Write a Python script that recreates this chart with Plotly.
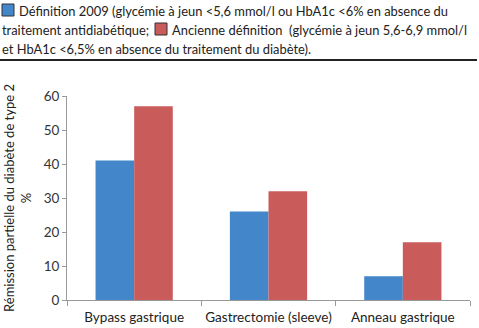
import plotly.graph_objects as go

categories = ["Bypass gastrique", "Gastrectomie (sleeve)", "Anneau gastrique"]
def_2009 = [41, 26, 7]
def_ancienne = [57, 32, 17]
y_ticks = [0, 10, 20, 30, 40, 50, 60]

BLUE = "#4387CA"
RED = "#C95B5B"
FONT = "Lato"

W, H = 479, 328
L, R, T, B = 67, 9, 96, 28
pw, ph = W - L - R, H - T - B

def px_x(p):
    return (p - L) / pw

def px_y(p):
    return (H - B - p) / ph

fig = go.Figure()
fig.add_trace(go.Bar(x=categories, y=def_2009, marker=dict(color=BLUE, line=dict(width=0)), name="Définition 2009"))
fig.add_trace(go.Bar(x=categories, y=def_ancienne, marker=dict(color=RED, line=dict(width=0)), name="Ancienne définition"))

legend_lines = [
    (17, 11, "Définition 2009 (glycémie à jeun &lt;5,6 mmol/l ou HbA1c &lt;6% en absence du"),
    (0, 30, "traitement antidiabétique;"),
    (170, 30, "Ancienne définition  (glycémie à jeun 5,6-6,9 mmol/l"),
    (0, 49, "et HbA1c &lt;6,5% en absence du traitement du diabète)."),
]
for x, y, t in legend_lines:
    fig.add_annotation(text=t, xref="paper", yref="paper", x=px_x(x), y=px_y(y),
                       xanchor="left", yanchor="middle", align="left", showarrow=False,
                       font=dict(family=FONT, size=12.9, color="#222"))

for (x0, y0, col) in [(2, 4, BLUE), (155, 23, RED)]:
    fig.add_shape(type="rect", xref="paper", yref="paper",
                  x0=px_x(x0), x1=px_x(x0 + 12), y0=px_y(y0), y1=px_y(y0 + 12),
                  fillcolor=col, line=dict(color="#333", width=1))

fig.add_shape(type="line", xref="paper", yref="paper", x0=px_x(0), x1=px_x(477),
              y0=px_y(60), y1=px_y(60), line=dict(color="#222", width=2))

fig.update_layout(
    width=W, height=H, margin=dict(l=L, r=R, t=T, b=B),
    paper_bgcolor="white", plot_bgcolor="white",
    barmode="group", bargap=0.425, bargroupgap=0,
    showlegend=False,
    font=dict(family=FONT, size=13, color="#333"),
    xaxis=dict(showline=True, linecolor="#999", linewidth=1, ticks="outside", tickson="boundaries",
               ticklen=5, tickcolor="#999", showgrid=False, tickangle=0, automargin=False,
               ticklabelstandoff=5, tickfont=dict(size=13.5, color="#222")),
    yaxis=dict(range=[0, 60], tickvals=y_ticks, showline=True, linecolor="#999", linewidth=1,
               ticks="outside", ticklen=4, tickcolor="#999", showgrid=False, zeroline=False,
               automargin=False, tickfont=dict(size=13.5, color="#333"),
               title=dict(text="Rémission partielle du diabète de type 2<br>%", standoff=9,
                          font=dict(size=13, color="#222"))),
)

fig.write_html("out.html")
